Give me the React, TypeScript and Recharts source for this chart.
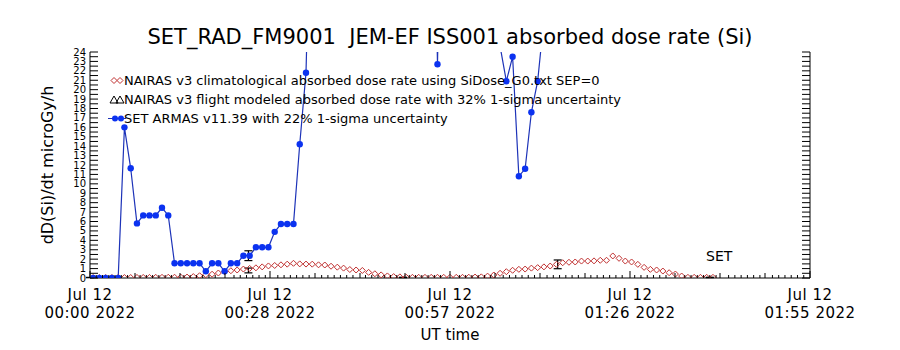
import React from "react";
import { ComposedChart, Line, Scatter, XAxis, YAxis, ErrorBar } from "recharts";

// one sample per minute, centred on the minute (t = i + 0.5 min after 00:00 UT)
const climDose = [
  0.05, 0.05, 0.05, 0.05, 0.05, 0.05, 0.05, 0.06, 0.06, 0.06, 0.07, 0.07, 0.08, 0.08, 0.09,
  0.1, 0.15, 0.24, 0.35, 0.4, 0.53, 0.67, 0.77, 0.85, 0.95, 1.02, 1.08, 1.18, 1.28, 1.33,
  1.4, 1.47, 1.56, 1.5, 1.48, 1.47, 1.4, 1.38, 1.25, 1.15, 1.05, 0.9, 0.85, 0.8, 0.6,
  0.45, 0.33, 0.22, 0.15, 0.12, 0.08,
  0.07, 0.07, 0.07, 0.07, 0.07, 0.07, 0.07, 0.07, 0.07,
  0.08, 0.1, 0.12, 0.2, 0.32, 0.5, 0.67, 0.82, 0.92, 0.95, 1.05, 1.1, 1.18, 1.27, 1.45,
  1.62, 1.67, 1.7, 1.8, 1.8, 1.82, 1.88, 1.88, 2.34, 2.09, 1.8, 1.7, 1.45, 1.13, 0.92,
  0.85, 0.74, 0.56, 0.42, 0.21,
  0.07, 0.07, 0.07, 0.07, 0.07,
];

const armasDose = [
  0, 0, 0, 0, 0, 16.0, 11.65, 5.8, 6.65, 6.65, 6.65, 7.46, 6.65,
  1.56, 1.56, 1.56, 1.56, 1.56, 0.71, 1.56, 1.56, 0.71, 1.56, 1.56,
  2.37, 2.37, 3.26, 3.26, 3.26, 4.9, 5.73, 5.73, 5.73, 14.2, 21.8,
  48, 52, 57, 61, 55, 63, 66, 59, 62, 70, 68, 64, 58, 61, 66, 72, 65, 60, 57,
  62, 22.7, 58, 61, 66, 63, 59, 54, 50, 46, 40, 24.6,
  20.9, 23.5, 10.8, 11.6, 17.6, 20.9, 27.5,
];

const flightTimes = [0, 25.3, 50, 74.7, 99];
const flightDose = [0.05, 0.8, 0.06, 1.45, 0.06];
const armasErrTimes = [25.3];
const armasErrDose = [2.37];

const xLabelTicks = [0, 28.75, 57.5, 86.25, 115];
const xTickDates = ["Jul 12", "Jul 12", "Jul 12", "Jul 12", "Jul 12"];
const xTickTimes = ["00:00 2022", "00:28 2022", "00:57 2022", "01:26 2022", "01:55 2022"];
const yTickLabels = [0, 1, 2, 3, 4, 5, 6, 7, 8, 9, 10, 11, 12, 13, 14, 15, 16, 17, 18, 19, 20, 21, 22, 23, 24];

const FONT = "'DejaVu Sans', sans-serif";
const BLUE_LINE = "#1d33b8";
const BLUE_DOT = "#0b32f0";
const RED = "#c03030";

const climData = climDose.map((v, i) => ({ t: i + 0.5, v }));
const armasData = armasDose.map((v, i) => ({ t: i + 0.5, v }));
const flightData = flightTimes.map((t, i) => ({ t, v: flightDose[i], e: flightDose[i] * 0.32 }));
const armasErrData = armasErrTimes.map((t, i) => ({ t, v: armasErrDose[i], e: armasErrDose[i] * 0.22 }));

// 4 sub-intervals per labelled interval, little ticks each minute
const xMidTicks: number[] = [];
for (let i = 0; i <= 16; i++) xMidTicks.push(i * 7.1875);
const xBottomTicks: number[] = [...xMidTicks];
for (let m = 1; m < 115; m++) {
  if (!xMidTicks.some((t) => Math.abs(t - m) < 0.6)) xBottomTicks.push(m);
}
xBottomTicks.sort((a, b) => a - b);
const yAxisTicks: number[] = [];
for (let i = 0; i <= 48; i++) yAxisTicks.push(i / 2);

const near = (a: number, b: number) => Math.abs(a - b) < 1e-6;

const BottomTick = (props: any) => {
  const { x, y, payload } = props;
  const v = payload.value;
  const li = xLabelTicks.findIndex((t) => near(t, v));
  const mid = xMidTicks.some((t) => near(t, v));
  const len = li >= 0 ? 7 : mid ? 5 : 3;
  return (
    <g>
      <line x1={x} y1={y} x2={x} y2={y - len} stroke="#000" />
      {li >= 0 && (
        <g fontSize={15} fontFamily={FONT} fill="#000" textAnchor="middle" letterSpacing={0.5}>
          <text x={x} y={y + 22}>{xTickDates[li]}</text>
          <text x={x} y={y + 40}>{xTickTimes[li]}</text>
        </g>
      )}
    </g>
  );
};

const TopTick = (props: any) => {
  const { x, y } = props;
  return <line x1={x} y1={y} x2={x} y2={y + 6} stroke="#000" />;
};

const LeftTick = (props: any) => {
  const { x, y, payload } = props;
  const v = payload.value;
  const isLabel = yTickLabels.some((t) => near(t, v));
  return (
    <g>
      <line x1={x} y1={y} x2={x + 8} y2={y} stroke="#000" />
      {isLabel && (
        <text x={x - 4} y={y + 3.5} textAnchor="end" fontSize={10} fontFamily={FONT} fill="#000">
          {v}
        </text>
      )}
    </g>
  );
};

const RightTick = (props: any) => {
  const { x, y } = props;
  return <line x1={x - 8} y1={y} x2={x} y2={y} stroke="#000" />;
};

const Diamond = (props: any) => {
  const { cx, cy, index } = props;
  if (cx == null || cy == null) return <g key={index} />;
  return (
    <path
      key={index}
      d={`M${cx},${cy - 3}L${cx + 3},${cy}L${cx},${cy + 3}L${cx - 3},${cy}Z`}
      fill="none"
      stroke={RED}
      strokeWidth={1}
    />
  );
};

const BlueDot = (props: any) => {
  const { cx, cy, index } = props;
  if (cx == null || cy == null) return <g key={index} />;
  return <circle key={index} cx={cx} cy={cy} r={3.2} fill={BLUE_DOT} />;
};

const Overlay = () => (
  <svg
    width={900}
    height={350}
    style={{ position: "absolute", left: 0, top: 0, pointerEvents: "none" }}
    fontFamily={FONT}
  >
    <text x={450} y={44} textAnchor="middle" fontSize={21} fill="#000">
      SET_RAD_FM9001{"\u00a0\u00a0"}JEM-EF ISS001 absorbed dose rate (Si)
    </text>

    {/* legend */}
    <path d="M114,77.5L117,80.5L114,83.5L111,80.5Z" fill="none" stroke={RED} />
    <path d="M120,77.5L123,80.5L120,83.5L117,80.5Z" fill="none" stroke={RED} />
    <text x={124} y={85} fontSize={13} fill="#000">
      NAIRAS v3 climatological absorbed dose rate using SiDose_G0.txt SEP=0
    </text>
    <path d="M110,103L114,96L118,103Z" fill="none" stroke="#000" />
    <path d="M116,103L120,96L124,103Z" fill="none" stroke="#000" />
    <text x={124} y={104} fontSize={13} fill="#000">
      NAIRAS v3 flight modeled absorbed dose rate with 32% 1-sigma uncertainty
    </text>
    <line x1={108} y1={118.5} x2={126} y2={118.5} stroke={BLUE_LINE} />
    <circle cx={115} cy={118.5} r={3} fill={BLUE_DOT} />
    <circle cx={121} cy={118.5} r={3} fill={BLUE_DOT} />
    <text x={124} y={123} fontSize={13} fill="#000">
      SET ARMAS v11.39 with 22% 1-sigma uncertainty
    </text>

    <text x={706} y={261} fontSize={14} fill="#000">
      SET
    </text>

    <text x={450} y={340} textAnchor="middle" fontSize={15} fill="#000">
      UT time
    </text>
    <text
      x={0}
      y={0}
      transform="translate(53,165) rotate(-90)"
      textAnchor="middle"
      fontSize={16}
      fill="#000"
    >
      dD(Si)/dt microGy/h
    </text>
  </svg>
);

export default function App() {
  return (
    <div style={{ position: "absolute", left: 0, top: 0, width: 900, height: 350, background: "#fff" }}>
      <ComposedChart width={900} height={350} margin={{ top: 52, right: 0, bottom: 0, left: 0 }}>
        <XAxis
          xAxisId="top"
          orientation="top"
          type="number"
          dataKey="t"
          domain={[0, 115]}
          allowDataOverflow
          ticks={xMidTicks}
          interval={0}
          height={0}
          tickSize={0}
          tickMargin={0}
          tickLine={false}
          axisLine={{ stroke: "#000" }}
          tick={(p: any) => <TopTick {...p} />}
        />
        <XAxis
          type="number"
          dataKey="t"
          domain={[0, 115]}
          allowDataOverflow
          ticks={xBottomTicks}
          interval={0}
          height={72}
          tickSize={0}
          tickMargin={0}
          tickLine={false}
          axisLine={{ stroke: "#000" }}
          tick={(p: any) => <BottomTick {...p} />}
        />
        <YAxis
          type="number"
          dataKey="v"
          domain={[0, 24]}
          allowDataOverflow
          ticks={yAxisTicks}
          interval={0}
          width={90}
          tickSize={0}
          tickMargin={0}
          tickLine={false}
          axisLine={{ stroke: "#000" }}
          tick={(p: any) => <LeftTick {...p} />}
        />
        <YAxis
          yAxisId="right"
          orientation="right"
          type="number"
          domain={[0, 24]}
          allowDataOverflow
          ticks={yAxisTicks}
          interval={0}
          width={90}
          tickSize={0}
          tickMargin={0}
          tickLine={false}
          axisLine={{ stroke: "#000" }}
          tick={(p: any) => <RightTick {...p} />}
        />
        <Line
          data={climData}
          dataKey="v"
          type="linear"
          stroke="none"
          dot={(p: any) => <Diamond {...p} />}
          activeDot={false}
          isAnimationActive={false}
        />
        <Line
          data={armasData}
          dataKey="v"
          type="linear"
          stroke={BLUE_LINE}
          strokeWidth={1.2}
          dot={(p: any) => <BlueDot {...p} />}
          activeDot={false}
          isAnimationActive={false}
        />
        <Scatter data={flightData} dataKey="v" shape={() => <g />} isAnimationActive={false}>
          <ErrorBar dataKey="e" direction="y" width={4} stroke="#000" strokeWidth={1.2} />
        </Scatter>
        <Scatter data={armasErrData} dataKey="v" shape={() => <g />} isAnimationActive={false}>
          <ErrorBar dataKey="e" direction="y" width={4} stroke="#000" strokeWidth={1.2} />
        </Scatter>
      </ComposedChart>
      <Overlay />
    </div>
  );
}
